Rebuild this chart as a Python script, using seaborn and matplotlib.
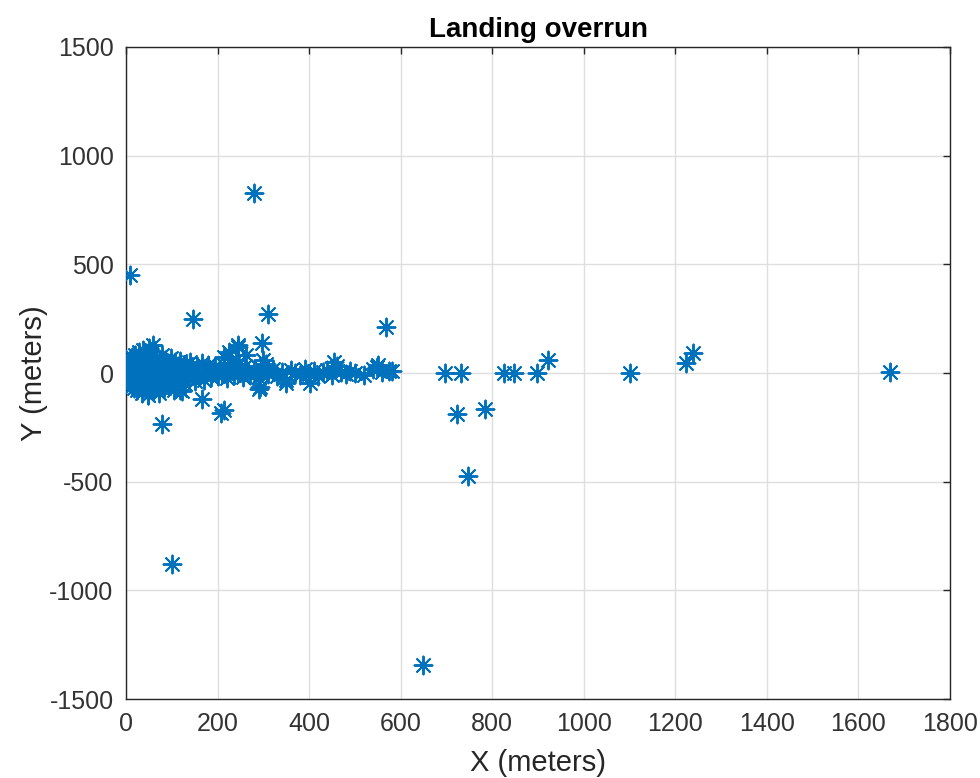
import matplotlib
matplotlib.use("Agg")
import matplotlib.pyplot as plt
import seaborn as sns
import pandas as pd

# Overrun end positions relative to the runway end (meters)
x_core = [2, 3, 4, 5, 6, 7, 8, 9, 10, 11, 12, 13, 14, 15, 16, 17, 18, 19, 20, 21,
          22, 23, 24, 25, 26, 27, 28, 29, 30, 31, 32, 33, 34, 35, 36, 37, 38, 39, 40, 41,
          42, 43, 44, 45, 46, 47, 48, 49, 50, 51, 52, 53, 54, 55, 56, 57, 58, 59, 60,
          1, 3, 5, 8, 12, 18, 25, 33, 42, 50, 57, 62]
y_core = [5, -12, 20, -30, 40, 0, -45, 60, 15, -20, 30, -60, 75, -5, 45, -70, 10, -35, 85, 25,
          -50, 5, 55, -80, -15, 35, 95, -40, 0, 65, -25, 15, -90, 50, -55, 105, 20, -10, 70, -65,
          30, -30, 90, 5, -45, -100, 45, -5, 115, 25, -75, 60, -20, 10, 80, -50, 35, -85, 100,
          0, 8, -3, 12, -8, -2, 14, -4, 2, -12, 6, -2]

x_mid = [62, 64, 66, 68, 70, 72, 74, 76, 78, 80, 82, 84, 86, 88, 90, 92, 94, 96, 98, 100,
         102, 104, 106, 108, 110, 112, 114, 116, 118, 120, 122, 125, 128, 130]
y_mid = [40, -60, 70, -30, 15, -90, 55, -10, 85, -45, 25, -70, 60, 5, -35, 45, -55, 20, 70, -25,
         35, -80, 10, 50, -40, 0, 30, -60, 55, -15, -85, 25, -50, 40]

x_band = [135, 140, 145, 150, 155, 160, 165, 170, 175, 180, 185, 190, 195, 200, 205, 210,
          215, 220, 225, 230, 235, 240, 245, 250, 255, 260, 265,
          215, 225, 245, 262, 300, 305, 295]
y_band = [-20, 50, 5, -35, 30, -10, 45, -30, 15, 35, -20, 5, 30, -15, 20, -5,
          35, -25, 10, 45, -10, 60, 0, 25, -20, 30, 5,
          75, 95, 120, 85, 60, 40, 25]

x_tail = [270, 280, 290, 300, 310, 320, 330, 340, 350, 360, 370, 380, 390, 400, 410, 420,
          430, 440, 450, 460, 470, 480, 490, 500, 520, 540, 548, 560, 575, 581, 455, 550, 401]
y_tail = [-10, 15, -25, 10, -5, 20, -15, 5, -30, 15, 0, -10, 20, -5, 10, -15,
          5, 15, -10, 30, 5, -5, 10, 0, -10, 20, 28, 5, 10, 9, 50, 37, -46]

x_out = [8, 280, 146, 311, 567, 921, 1239, 1223, 1101, 1669, 696, 731, 723, 784, 746,
         825, 847, 897, 649, 100, 78, 213, 207, 167, 290, 296, 349, 47, 117, 58, 244, 292]
y_out = [450, 830, 248, 271, 212, 60, 92, 46, 1, 3, 0, 0, -189, -166, -474,
         0, 0, 0, -1344, -879, -235, -170, -184, -120, -74, 138, -46, -101, -78, 129, 129, -64]

x_ticks = [0, 200, 400, 600, 800, 1000, 1200, 1400, 1600, 1800]
y_ticks = [-1500, -1000, -500, 0, 500, 1000, 1500]

df = pd.DataFrame({
    "x": x_core + x_mid + x_band + x_tail + x_out,
    "y": y_core + y_mid + y_band + y_tail + y_out,
})

sns.set_style("white")
plt.rcParams["font.family"] = ["Liberation Sans", "DejaVu Sans"]
plt.rcParams["axes.unicode_minus"] = False

fig = plt.figure(figsize=(9.8, 7.78), dpi=100)
ax = fig.add_axes([0.1286, 0.1015, 0.8408, 0.8381])

ax.grid(True, color="#dedede", linewidth=1.0)
ax.set_axisbelow(True)

sns.scatterplot(data=df, x="x", y="y", ax=ax, marker=(8, 2, 0), s=165,
                color="#0072BD", linewidth=1.4, legend=False, zorder=3)

ax.set_xlim(0, 1800)
ax.set_ylim(-1500, 1500)
ax.set_xticks(x_ticks)
ax.set_yticks(y_ticks)

ax.tick_params(axis="both", which="both", direction="in", length=5, width=1,
               colors="#262626", labelsize=18, top=True, right=True, pad=9)
for t in ax.get_xticklabels() + ax.get_yticklabels():
    t.set_color("#333333")
for sp in ax.spines.values():
    sp.set_color("#262626")
    sp.set_linewidth(1.0)

ax.set_xlabel("X (meters)", fontsize=21, color="#262626", labelpad=10)
ax.set_ylabel("Y (meters)", fontsize=21, color="#262626", labelpad=1)
ax.set_title("Landing overrun", fontsize=20, fontweight="bold", color="black", pad=7)

fig.savefig("out.png", dpi=100)
